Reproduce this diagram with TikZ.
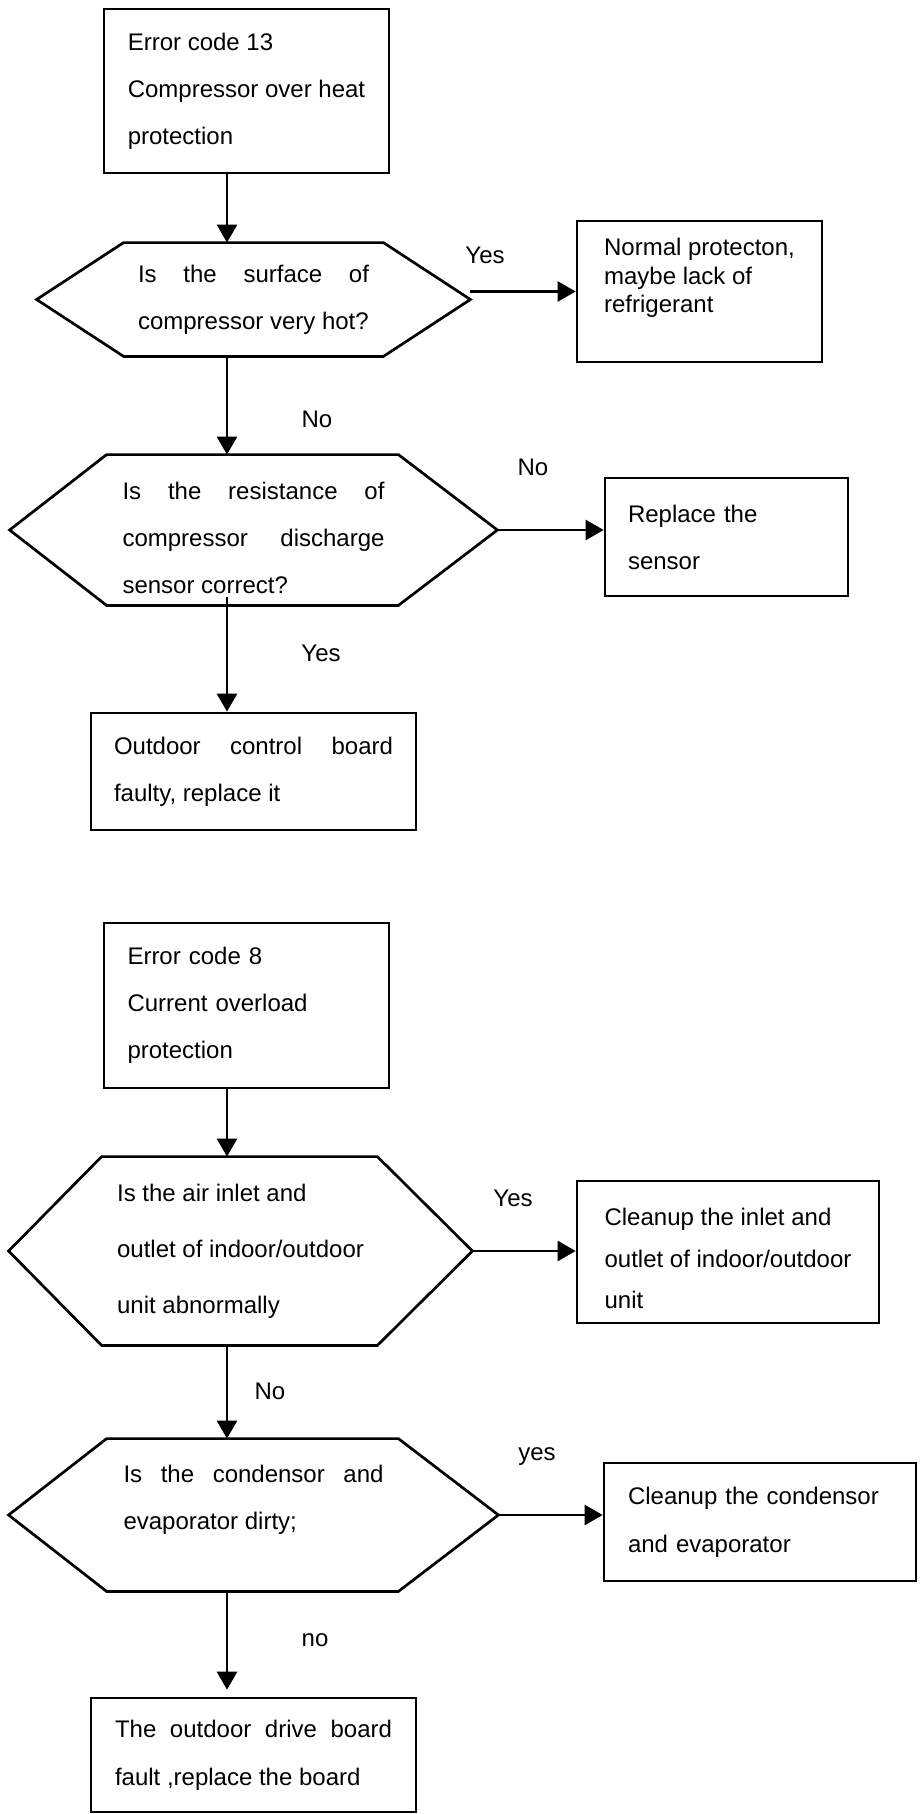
\documentclass[tikz,border=0pt]{standalone}
\usepackage{fontspec}
\setmainfont{Liberation Sans}
\usetikzlibrary{arrows.meta,calc}

% spread one line over a given width
\newcommand{\spread}[2]{\makebox[#1][s]{#2}}
% outline of a decision node: name, left inset, right inset
\newcommand{\hexline}[3]{%
  \draw[edge] (#1.west) -- ($(#1.north west)+(#2,0)$) -- ($(#1.north east)-(#3,0)$)
    -- (#1.east) -- ($(#1.south east)-(#3,0)$) -- ($(#1.south west)+(#2,0)$) -- cycle;}

\tikzset{
  every node/.style={font=\fontsize{12}{23.5}\selectfont},
  edge/.style={line width=1.35pt, line join=miter},
  box/.style={draw, line width=1.35pt, inner sep=0pt, align=left},
  decision/.style={inner sep=0pt, align=left},
  flow/.style={line width=1.3pt, -{Triangle[width=10pt,length=9pt]}},
  answer/.style={inner sep=0pt}
}

\begin{document}
\begin{tikzpicture}[x=1pt,y=-1pt]
  \useasboundingbox (0,0) rectangle (460,907);
  \coordinate (axis) at (113.5,0);

  % error code 13
  \node[box, minimum width=142.5pt, minimum height=82pt] (b13) at (123.25,45.5)
    {Error code 13\\Compressor over heat\\protection};
  \node[decision, minimum width=216.5pt, minimum height=56.5pt] (q1) at (126.75,149.75)
    {\spread{115.5pt}{Is the surface of}\\compressor very hot?};
  \hexline{q1}{43.5}{43.5}
  \node[box, minimum width=122.5pt, minimum height=70.5pt, text depth=16pt,
    font=\fontsize{12}{14.25}\selectfont] (np) at (349.75,145.75)
    {Normal protecton,\\maybe lack of\\refrigerant};
  \node[decision, minimum width=243.5pt, minimum height=75pt, text height=63.75pt] (q2) at (126.75,265)
    {\spread{131pt}{Is the resistance of}\\\spread{131pt}{compressor discharge}\\sensor correct?};
  \hexline{q2}{48.5}{49.5}
  \node[box, minimum width=121.5pt, minimum height=59pt, text width=98.5pt] (rs) at (363.25,268.5)
    {Replace the\\sensor};
  \node[box, minimum width=162.5pt, minimum height=58.5pt] (ob) at (126.75,385.75)
    {\spread{139.5pt}{Outdoor control board}\\faulty, replace it};

  \node[answer] (yes1) at (242.5,127.5) {Yes};
  \node[answer] (no1) at (158.5,209.5) {No};
  \node[answer] (no2) at (266.5,233.5) {No};
  \node[answer] (yes2) at (160.5,326.5) {Yes};

  \draw[flow] (b13.south -| axis) -- (q1.north -| axis);
  \draw[flow] (q1.east |- np.west) -- (np.west);
  \draw[flow] (q1.south -| axis) -- (q2.north -| axis);
  \draw[flow] (q2.east) -- (q2.east -| rs.west);
  \draw[flow, shorten <=-4pt] (q2.south -| axis) -- (ob.north -| axis);

  % error code 8
  \node[box, minimum width=142.5pt, minimum height=82.5pt, text width=119pt] (b8) at (123.25,502.75)
    {Error code 8\\Current overload\\protection};
  \node[decision, minimum width=231.5pt, minimum height=94pt,
    font=\fontsize{12}{28}\selectfont] (q3) at (120.25,625.5)
    {Is the air inlet and\\outlet of indoor/outdoor\\unit abnormally};
  \hexline{q3}{46.5}{47.5}
  \node[box, minimum width=151pt, minimum height=71pt, text height=56.75pt,
    font=\fontsize{12}{20.75}\selectfont] (ci) at (364,626)
    {Cleanup the inlet and\\outlet of indoor/outdoor\\unit};
  \node[decision, minimum width=244.5pt, minimum height=76pt, text depth=17.5pt] (q4) at (126.75,757.5)
    {\spread{130pt}{Is the condensor and}\\evaporator dirty;};
  \hexline{q4}{49}{50}
  \node[box, minimum width=156pt, minimum height=59pt, text width=132pt,
    font=\fontsize{12}{24}\selectfont] (cc) at (380,761)
    {Cleanup the condensor\\and evaporator};
  \node[box, minimum width=162.5pt, minimum height=57pt,
    font=\fontsize{12}{24}\selectfont] (db) at (126.75,877.5)
    {\spread{138.5pt}{The outdoor drive board}\\fault ,replace the board};

  \node[answer] (yes3) at (256.5,599) {Yes};
  \node[answer] (no3) at (135,695.5) {No};
  \node[answer] (yes4) at (268.5,728.5) {yes};
  \node[answer] (no4) at (157.5,820) {no};

  \draw[flow] (b8.south -| axis) -- (q3.north -| axis);
  \draw[flow] (q3.east) -- (q3.east -| ci.west);
  \draw[flow] (q3.south -| axis) -- (q4.north -| axis);
  \draw[flow] (q4.east) -- (q4.east -| cc.west);
  \draw[flow, shorten >=3.5pt] (q4.south -| axis) -- (db.north -| axis);
\end{tikzpicture}
\end{document}
